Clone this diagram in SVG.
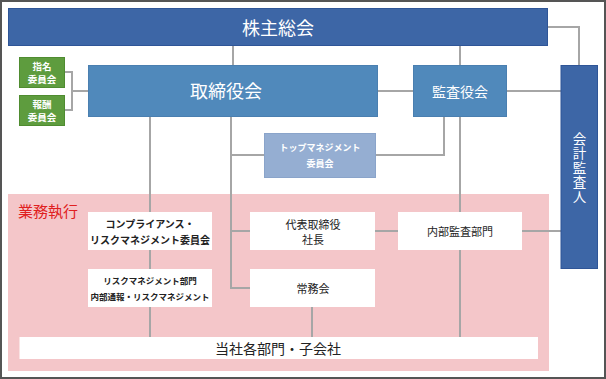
<svg xmlns="http://www.w3.org/2000/svg" width="606" height="379" viewBox="0 0 606 379">
<style>
text{font-family:"Noto Sans CJK JP","Noto Sans",sans-serif;text-anchor:middle;dominant-baseline:central}
.ln{stroke:#a6a6a6;stroke-width:2;fill:none}
.dark{fill:#3d66a6;stroke:#2f5597;stroke-width:1}
.mid{fill:#5089bb;stroke:#4a7fb0;stroke-width:1}
.grn{fill:#5e9c3e;stroke:#4f8c30;stroke-width:1}
.lt{fill:#95aed2;stroke:#8aa4ca;stroke-width:1}
.wb{fill:#ffffff}
.wt{fill:#ffffff}
.bt{fill:#222222}
.vt{writing-mode:vertical-rl}
</style>
<rect x="0" y="0" width="606" height="379" fill="#ffffff"/>
<rect x="1" y="1" width="604" height="377" fill="none" stroke="#555555" stroke-width="2"/>
<rect id="gyomu-area" x="8" y="194" width="541" height="177" fill="#f4c6c9"/>
<text x="48" y="210" font-size="15" fill="#e02020">業務執行</text>
<g id="connectors">
<path class="ln" d="M233 45V65"/>
<path class="ln" d="M460 45V65"/>
<path class="ln" d="M548 27H579V65"/>
<path class="ln" d="M65 72H72V110H65M72 91H88"/>
<path class="ln" d="M378 91H413"/>
<path class="ln" d="M507 91H561"/>
<path class="ln" d="M231 117V288H250M231 155H264M231 231H250"/>
<path class="ln" d="M444 117V155H376"/>
<path class="ln" d="M460 117V337"/>
<path class="ln" d="M150 117V337"/>
<path class="ln" d="M375 231H398"/>
<path class="ln" d="M522 231H561"/>
<path class="ln" d="M312 307V337"/>
</g>
<g id="kabunushi">
<rect class="dark" x="8.5" y="8.5" width="539" height="37"/>
<text class="wt" x="278" y="27" font-size="18">株主総会</text>
</g>
<g id="shimei">
<rect class="grn" x="19.5" y="57.5" width="45" height="30"/>
<text class="wt" x="42" y="65.5" font-size="9.5" font-weight="bold">指名</text>
<text class="wt" x="42" y="79" font-size="9.5" font-weight="bold">委員会</text>
</g>
<g id="hoshu">
<rect class="grn" x="19.5" y="95.5" width="45" height="30"/>
<text class="wt" x="42" y="103.5" font-size="9.5" font-weight="bold">報酬</text>
<text class="wt" x="42" y="117" font-size="9.5" font-weight="bold">委員会</text>
</g>
<g id="torishimariyakukai">
<rect class="mid" x="88.5" y="65.5" width="289" height="51"/>
<text class="wt" x="226" y="90" font-size="18">取締役会</text>
</g>
<g id="kansayakukai">
<rect class="mid" x="413.5" y="65.5" width="93" height="51"/>
<text class="wt" x="460" y="91" font-size="14">監査役会</text>
</g>
<g id="kaikeikansanin">
<rect class="dark" x="561" y="65.5" width="36.5" height="203"/>
<text class="wt vt" x="579.5" y="168" font-size="13.5" letter-spacing="1">会計監査人</text>
</g>
<g id="topmanagement">
<rect class="lt" x="264.5" y="133.5" width="111" height="44"/>
<text class="wt" x="320" y="147" font-size="9" font-weight="bold">トップマネジメント</text>
<text class="wt" x="320" y="163" font-size="9" font-weight="bold">委員会</text>
</g>
<g id="compliance">
<rect class="wb" x="88" y="212" width="124" height="38"/>
<text class="bt" x="150" y="223" font-size="10" font-weight="bold">コンプライアンス・</text>
<text class="bt" x="150" y="239" font-size="10" font-weight="bold">リスクマネジメント委員会</text>
</g>
<g id="riskbumon">
<rect class="wb" x="88" y="269" width="124" height="38"/>
<text class="bt" x="150" y="280" font-size="8.5" font-weight="bold">リスクマネジメント部門</text>
<text class="bt" x="150" y="296" font-size="8.5" font-weight="bold">内部通報・リスクマネジメント</text>
</g>
<g id="daihyo">
<rect class="wb" x="250" y="212" width="125" height="38"/>
<text class="bt" x="313" y="224" font-size="11">代表取締役</text>
<text class="bt" x="313" y="239" font-size="11">社長</text>
</g>
<g id="jomukai">
<rect class="wb" x="250" y="269" width="125" height="38"/>
<text class="bt" x="313" y="288" font-size="11">常務会</text>
</g>
<g id="naibukansa">
<rect class="wb" x="398" y="212" width="124" height="38"/>
<text class="bt" x="460" y="231" font-size="11">内部監査部門</text>
</g>
<g id="kakubumon">
<rect class="wb" x="19.5" y="337" width="518.5" height="22"/>
<text class="bt" x="278" y="348" font-size="14">当社各部門・子会社</text>
</g>
</svg>
